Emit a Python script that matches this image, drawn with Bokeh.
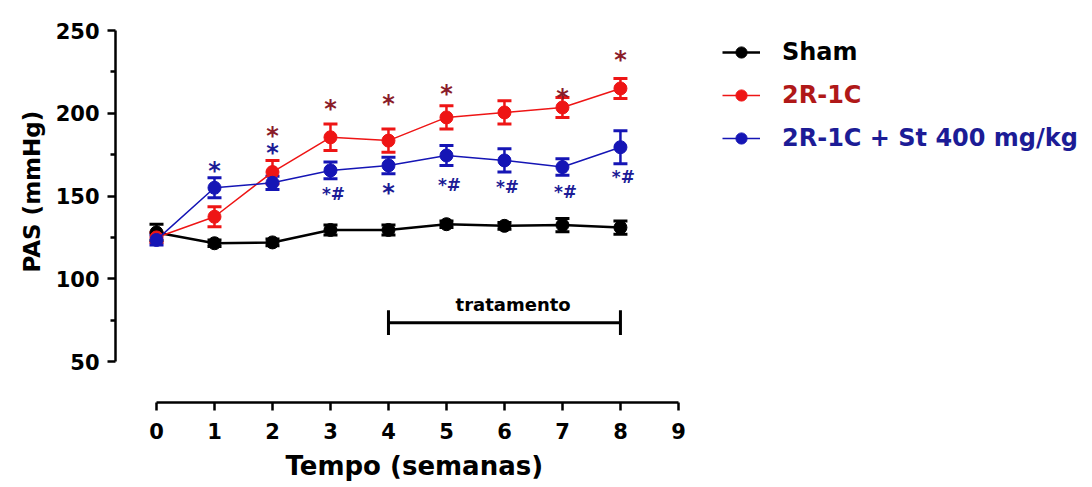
from bokeh.plotting import figure
from bokeh.models import (Range1d, FixedTicker, Whisker, ColumnDataSource, Legend,
                          LegendItem, TeeHead, Title)
from bokeh.core.properties import value
from bokeh.embed import file_html
from bokeh.resources import INLINE

# ---------------- data ----------------
weeks = [0, 1, 2, 3, 4, 5, 6, 7, 8]
sham = [128, 121.5, 122, 129.5, 129.5, 133, 132, 132.5, 131]
sham_sem = [5, 2, 2, 3, 3, 2, 2, 4, 4]
r2c1 = [125, 137.5, 164.5, 185.5, 183.5, 197.5, 200.5, 203.5, 215]
r2c1_sem = [3, 6, 7, 8, 7, 7, 7, 6, 6]
st400 = [123.5, 155, 158, 165.5, 168.5, 174.5, 171.5, 167.5, 179.5]
st400_sem = [3, 6, 4, 5, 5, 6, 7, 5, 10]

red_star_weeks = [2, 3, 4, 5, 7, 8]
red_star_y = [190, 206, 209.5, 215.5, 213, 236]
blue_star_weeks = [1, 2, 4]
blue_star_y = [168.5, 179.5, 155.5]
blue_hash_weeks = [3, 5, 6, 7, 8]
blue_hash_y = [151.5, 156.5, 155.5, 152.5, 161.5]

treat_start = [4]
treat_end = [8]
treat_level = [73.5]
treat_label = ["tratamento"]

y_ticks = [50, 100, 150, 200, 250]
y_minor = [75, 125, 175, 225]
x_ticks = [0, 1, 2, 3, 4, 5, 6, 7, 8, 9]

x_title = "Tempo (semanas)"
y_title = "PAS (mmHg)"
labels = ["Sham", "2R-1C", "2R-1C + St 400 mg/kg"]
colors = ["#000000", "#ee1515", "#1515b5"]
text_colors = ["#000000", "#b01818", "#1c1c96"]

FONT = "DejaVu Sans"

# ---------------- figure ----------------
p = figure(width=1092, height=487, output_backend="svg", toolbar_location=None,
           x_range=Range1d(-0.707, 16.14), y_range=Range1d(25.3, 250),
           min_border_left=115, min_border_right=0, min_border_top=30,
           min_border_bottom=84)
p.outline_line_color = None
p.grid.visible = False
p.background_fill_color = "white"

p.yaxis.ticker = FixedTicker(ticks=y_ticks, minor_ticks=y_minor)
p.yaxis.bounds = (50, 250)
p.xaxis.ticker = FixedTicker(ticks=x_ticks, minor_ticks=[])
p.xaxis.bounds = (0, 9)

for ax in (p.xaxis[0], p.yaxis[0]):
    ax.axis_line_width = 2.5
    ax.axis_line_color = "black"
    ax.major_tick_line_width = 2.5
    ax.minor_tick_line_width = 2.5
    ax.major_tick_in = 0
    ax.major_tick_out = 8
    ax.minor_tick_in = 0
    ax.minor_tick_out = 5
    ax.major_label_text_font = FONT
    ax.major_label_text_font_style = "bold"
    ax.major_label_text_font_size = "21px"
    ax.major_label_text_color = "black"
p.yaxis.major_label_standoff = 8
p.xaxis.major_label_standoff = 12

# axis titles placed along the drawn (bounded) axes
xt = Title(text=x_title, align="left", offset=170, text_font=FONT,
           text_font_style="bold", text_font_size="26px", text_color="black",
           standoff=14)
p.add_layout(xt, "below")
yt = Title(text=y_title, align="left", offset=130, text_font=FONT,
           text_font_style="bold", text_font_size="23px", text_color="black",
           standoff=16)
p.add_layout(yt, "left")

# ---------------- series ----------------
series = [(sham, sham_sem), (r2c1, r2c1_sem), (st400, st400_sem)]
line_widths = [2.5, 1.5, 1.5]
legend_renderers = []
for (vals, sem), col, lw in zip(series, colors, line_widths):
    src = ColumnDataSource(dict(x=weeks, y=vals,
                                upper=[v + s for v, s in zip(vals, sem)],
                                lower=[v - s for v, s in zip(vals, sem)]))
    ln = p.line("x", "y", source=src, line_color=col, line_width=lw)
    w = Whisker(source=src, base="x", upper="upper", lower="lower",
                line_color=col, line_width=2.5,
                upper_head=TeeHead(size=14, line_color=col, line_width=3),
                lower_head=TeeHead(size=14, line_color=col, line_width=3))
    p.add_layout(w)
    sc = p.scatter("x", "y", source=src, size=13, marker="circle",
                   fill_color=col, line_color=col)
    legend_renderers.append((ln, sc))

# ---------------- significance marks ----------------
p.text(x=red_star_weeks, y=red_star_y, text=["*"] * len(red_star_weeks),
       text_font=value(FONT), text_font_style="bold", text_font_size="24px",
       text_align="center", text_baseline="middle", text_color="#8a1c2a",
       y_offset=6)
p.text(x=blue_star_weeks, y=blue_star_y, text=["*"] * len(blue_star_weeks),
       text_font=value(FONT), text_font_style="bold", text_font_size="24px",
       text_align="center", text_baseline="middle", text_color="#1c1c96",
       y_offset=6)
p.text(x=blue_hash_weeks, y=blue_hash_y, text=["*#"] * len(blue_hash_weeks),
       text_font=value(FONT), text_font_style="bold", text_font_size="17px",
       text_align="center", text_baseline="middle", text_color="#1c1c96",
       x_offset=3)

# ---------------- treatment bar ----------------
p.segment(x0=treat_start, y0=treat_level, x1=treat_end, y1=treat_level,
          line_color="black", line_width=3)
tsrc = ColumnDataSource(dict(base=treat_start + treat_end,
                             lo=[treat_level[0] - 7.5] * 2,
                             hi=[treat_level[0] + 7.5] * 2))
p.segment(x0="base", y0="lo", x1="base", y1="hi", source=tsrc,
          line_color="black", line_width=3)
p.text(x=[(treat_start[0] + treat_end[0]) / 2 + 0.15], y=[treat_level[0] + 10.8],
       text=treat_label, text_font=value(FONT), text_font_style="bold",
       text_font_size="18px", text_align="center", text_baseline="middle",
       text_color="black")

# ---------------- legends ----------------
row_bottoms = [336, 293, 250]
for (ln, sc), lab, tc, vy in zip(legend_renderers, labels, text_colors, row_bottoms):
    lg = Legend(items=[LegendItem(label=lab, renderers=[ln, sc])],
                location=(607, vy), orientation="vertical")
    lg.border_line_color = None
    lg.background_fill_alpha = 0
    lg.padding = 0
    lg.margin = 0
    lg.spacing = 0
    lg.glyph_width = 38
    lg.glyph_height = 28
    lg.label_height = 28
    lg.label_standoff = 22
    lg.label_text_font = FONT
    lg.label_text_font_style = "bold"
    lg.label_text_font_size = "24px"
    lg.label_text_color = tc
    lg.label_text_baseline = "middle"
    p.add_layout(lg, "center")

open("out.html", "w").write(file_html(p, INLINE))
